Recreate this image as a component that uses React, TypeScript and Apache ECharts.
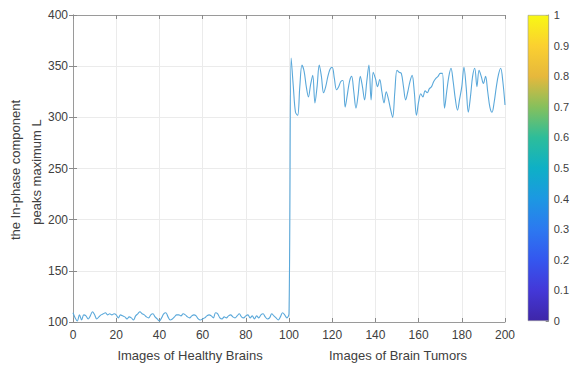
import React, { useEffect, useRef } from "react";
import * as echarts from "echarts";

const healthy: number[] = [
  109, 104, 101, 107, 102, 107, 106, 103, 106, 110,
  107, 103, 105, 107, 108, 109, 107, 108, 107, 108,
  107, 104, 107, 106, 105, 103, 105, 104, 102, 106,
  108, 110, 108, 107, 105, 104, 107, 108, 105, 103,
  101, 104, 108, 109, 105, 102, 103, 105, 107, 107,
  106, 108, 107, 105, 104, 106, 107, 106, 103, 102,
  103, 104, 106, 107, 106, 104, 109, 108, 104, 103,
  105, 104, 106, 107, 105, 104, 106, 108, 105, 104,
  106, 107, 104, 106, 103, 106, 104, 107, 108, 105,
  103, 104, 108, 106, 104, 102, 105, 109, 107, 104,
  108,
];

const tumor: number[] = [
  358, 330, 305, 302, 330, 351, 345, 330, 320, 332,
  341, 314, 330, 351, 340, 324, 330, 340, 347, 349,
  338, 327, 330, 335, 336, 310, 322, 335, 340, 325,
  309, 322, 340, 330, 317, 335, 351, 317, 344, 338,
  330, 337, 325, 314, 325, 318, 308, 300, 325, 346,
  344, 343, 330, 317, 325, 335, 341, 325, 302, 315,
  323, 320, 326, 324, 328, 330, 335, 338, 340, 343,
  343, 309, 325, 340, 348, 335, 318, 307, 318, 330,
  349, 330, 305, 320, 340, 348, 330, 346, 340, 333,
  340, 325, 310, 305, 315, 330, 342, 348, 335, 312,
];

const xTitles: string[] = ["Images of Healthy Brains", "Images of Brain Tumors"];
const yTitle: string[] = ["the In-phase component", "peaks maximum L"];
const colorStops: string[] = [
  "#3e26a8", "#4338d8", "#3457ef", "#2c79f0", "#1c98e2",
  "#0eb0c6", "#2dbd9a", "#86c05c", "#e6b83c", "#fbd030", "#f8f814",
];

const FONT = "'Liberation Sans', Arial, sans-serif";
const TXT = "#404040";

export default function App() {
  const ref = useRef<HTMLDivElement>(null);
  useEffect(() => {
    if (!ref.current) return;
    const chart = echarts.init(ref.current, null, { renderer: "svg" });
    const values = [...healthy, ...tumor];
    const data = values.map((v, i) => [i, v]);
    const tick = { show: true, inside: true, length: 4, lineStyle: { color: "#8a8a8a" } };
    const axLine = { show: true, lineStyle: { color: "#9a9a9a" } };
    const fmtCb = (v: number) => String(parseFloat(v.toFixed(1)));
    chart.setOption({
      animation: false,
      backgroundColor: "#ffffff",
      textStyle: { fontFamily: FONT },
      grid: [
        { left: 73, top: 15, width: 432, height: 307, show: false },
        { left: 528, top: 15, width: 24, height: 306, show: false },
      ],
      xAxis: [
        {
          type: "value", gridIndex: 0, min: 0, max: 200, interval: 20, position: "bottom",
          axisLine: axLine, axisTick: tick,
          axisLabel: { color: TXT, fontSize: 12, margin: 7, fontFamily: FONT },
          splitLine: { show: true, lineStyle: { color: "#ebebeb" } },
        },
        {
          type: "value", gridIndex: 0, min: 0, max: 200, interval: 20, position: "top",
          axisLine: axLine, axisTick: tick, axisLabel: { show: false }, splitLine: { show: false },
        },
        {
          type: "category", gridIndex: 1, data: [""], show: false,
        },
      ],
      yAxis: [
        {
          type: "value", gridIndex: 0, min: 100, max: 400, interval: 50, position: "left",
          axisLine: axLine, axisTick: tick,
          axisLabel: { color: TXT, fontSize: 12, margin: 5, fontFamily: FONT },
          splitLine: { show: true, lineStyle: { color: "#ebebeb" } },
        },
        {
          type: "value", gridIndex: 0, min: 100, max: 400, interval: 50, position: "right",
          axisLine: axLine, axisTick: tick, axisLabel: { show: false }, splitLine: { show: false },
        },
        {
          type: "value", gridIndex: 1, min: 0, max: 1, interval: 0.1, position: "right",
          axisLine: { show: true, lineStyle: { color: "#9a9a9a" } },
          axisTick: { show: true, inside: true, length: 3, lineStyle: { color: "#8a8a8a" } },
          axisLabel: { color: TXT, fontSize: 11, margin: 5, formatter: fmtCb, fontFamily: FONT },
          splitLine: { show: false },
        },
      ],
      series: [
        {
          type: "line", xAxisIndex: 0, yAxisIndex: 0, data, showSymbol: false, symbol: "none",
          smooth: 0.35,
          lineStyle: { color: "#5aa8da", width: 1.1 }, z: 3,
        },
        {
          type: "bar", xAxisIndex: 2, yAxisIndex: 2, data: [1], barWidth: 24,
          itemStyle: {
            borderColor: "#9a9a9a", borderWidth: 0.6,
            color: new echarts.graphic.LinearGradient(0, 1, 0, 0,
              colorStops.map((c, i) => ({ offset: i / (colorStops.length - 1), color: c }))),
          },
        },
      ],
      graphic: [
        {
          type: "text", x: 190, y: 355,
          style: { text: xTitles[0], fill: TXT, font: `13px ${FONT}`, align: "center", verticalAlign: "middle" },
        },
        {
          type: "text", x: 398, y: 355,
          style: { text: xTitles[1], fill: TXT, font: `13px ${FONT}`, align: "center", verticalAlign: "middle" },
        },
        {
          type: "text", x: 15, y: 170, rotation: Math.PI / 2,
          style: { text: yTitle[0], fill: TXT, font: `13px ${FONT}`, align: "center", verticalAlign: "middle" },
        },
        {
          type: "text", x: 36, y: 172, rotation: Math.PI / 2,
          style: { text: yTitle[1], fill: TXT, font: `13px ${FONT}`, align: "center", verticalAlign: "middle" },
        },
      ],
    });
    return () => chart.dispose();
  }, []);
  return (
    <div
      ref={ref}
      style={{ position: "fixed", left: 0, top: 0, width: 572, height: 365, background: "#fff" }}
    />
  );
}
